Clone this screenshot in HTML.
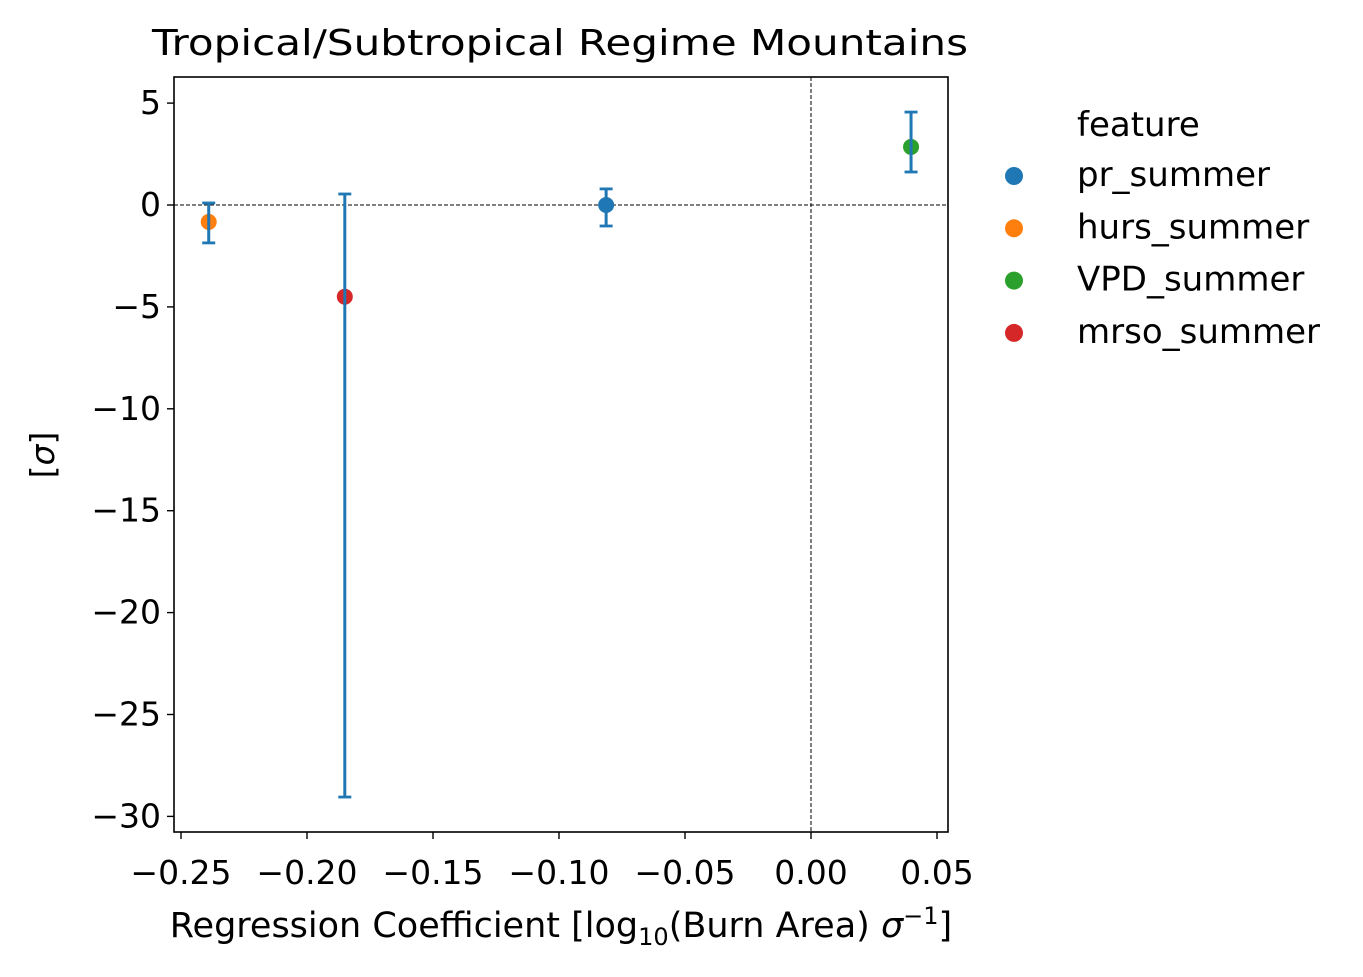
<!DOCTYPE html>
<html><head><meta charset="utf-8"><style>
body{margin:0;background:#fff;}
svg{font-family:"DejaVu Sans","Liberation Sans",sans-serif;}
</style></head><body>
<svg id="chart" width="1363" height="972" viewBox="0 0 1363 972" xmlns="http://www.w3.org/2000/svg">
<text x="152" y="55" font-size="36" textLength="816" lengthAdjust="spacingAndGlyphs">Tropical/Subtropical Regime Mountains</text>
<g id="plot"></g>
<rect x="174" y="77" width="774" height="755" fill="none" stroke="#000" stroke-width="1.6"/>
<text x="561" y="937" font-size="35" text-anchor="middle">Regression Coefficient [log<tspan font-size="24" dy="8">10</tspan><tspan dy="-8">(Burn Area) </tspan><tspan font-style="italic">σ</tspan><tspan font-size="24" dy="-13">−1</tspan><tspan dy="13">]</tspan></text>
<text transform="translate(54,455) rotate(-90)" font-size="33" text-anchor="middle">[<tspan font-style="italic">σ</tspan>]</text>
<g id="legend"></g>
</svg>
<script>
const features = ["pr_summer","hurs_summer","VPD_summer","mrso_summer"];
const colors = ["#1f77b4","#ff7f0e","#2ca02c","#d62728"];
const coefs = [-0.0813,-0.239,0.0397,-0.185];
const sigmas = [0,-0.83,2.85,-4.5];
const errLow = [-1.03,-1.86,1.62,-29.05];
const errHigh = [0.79,0.1,4.56,0.54];
const xTicks = [-0.25,-0.20,-0.15,-0.10,-0.05,0.00,0.05];
const xTickLabels = ["−0.25","−0.20","−0.15","−0.10","−0.05","0.00","0.05"];
const yTicks = [5,0,-5,-10,-15,-20,-25,-30];
const yTickLabels = ["5","0","−5","−10","−15","−20","−25","−30"];

const X = v => 811 + v*2520;
const Y = v => 205 - v*20.38;
const NS="http://www.w3.org/2000/svg";
const plot=document.getElementById('plot');
function mk(tag,attrs,parent){const e=document.createElementNS(NS,tag);for(const k in attrs)e.setAttribute(k,attrs[k]);parent.appendChild(e);return e;}

xTicks.forEach((t,i)=>{
  const l=mk('line',{x1:X(t),x2:X(t),y1:832,y2:839,stroke:'#000','stroke-width':1.4},plot);
  
  
  const tx=mk('text',{x:X(t),y:884,'font-size':33,'text-anchor':'middle'},plot);
  tx.textContent=xTickLabels[i];
  
  
});
yTicks.forEach((t,i)=>{
  const l=mk('line',{x1:167,x2:174,y1:Y(t),y2:Y(t),stroke:'#000','stroke-width':1.4},plot);
  
  
  const tx=mk('text',{x:161,y:Y(t)+11,'font-size':33,'text-anchor':'end'},plot);
  tx.textContent=yTickLabels[i];
  
  
});
const h0=mk('line',{x1:174,x2:948,y1:Y(0),y2:Y(0),stroke:'#000','stroke-width':1,'stroke-dasharray':'4,2'},plot);


const v0=mk('line',{x1:X(0),x2:X(0),y1:77,y2:832,stroke:'#000','stroke-width':1,'stroke-dasharray':'4,2'},plot);



features.forEach((f,i)=>{
  const c=mk('circle',{cx:X(coefs[i]),cy:Y(sigmas[i]),r:8,fill:colors[i]},plot);
  
  
});
features.forEach((f,i)=>{
  const g=mk('g',{stroke:'#1f77b4','stroke-width':3},plot);
  
  
  const x=X(coefs[i]);
  mk('line',{x1:x,x2:x,y1:Y(errLow[i]),y2:Y(errHigh[i])},g);
  mk('line',{x1:x-6.5,x2:x+6.5,y1:Y(errLow[i]),y2:Y(errLow[i]),'stroke-width':2.8},g);
  mk('line',{x1:x-6.5,x2:x+6.5,y1:Y(errHigh[i]),y2:Y(errHigh[i]),'stroke-width':2.8},g);
});

const lg=document.getElementById('legend');
const tt=mk('text',{x:1077,y:136,'font-size':34},lg);
tt.textContent='feature';


features.forEach((f,i)=>{
  const y=176+i*52.3;
  const g=mk('g',{},lg);
  
  
  mk('circle',{cx:1014,cy:y,r:9,fill:colors[i]},g);
  const t=mk('text',{x:1077,y:y+10,'font-size':34},g);
  t.textContent=f;
});
</script>
</body></html>
